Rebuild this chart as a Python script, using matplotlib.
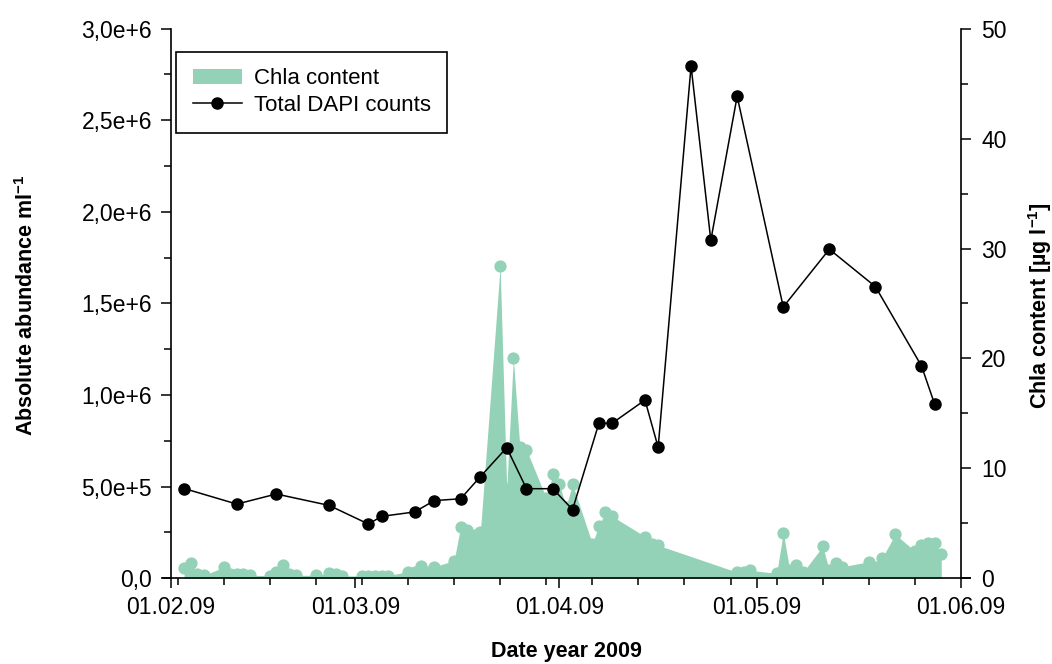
import matplotlib
matplotlib.use("Agg")
import matplotlib.pyplot as plt
import matplotlib.dates as mdates
import matplotlib.ticker as mticker
import pandas as pd

plt.rcParams['font.family'] = ['Liberation Sans', 'DejaVu Sans']
plt.rcParams['mathtext.fontset'] = 'custom'
plt.rcParams['mathtext.rm'] = 'Liberation Sans'
plt.rcParams['mathtext.bf'] = 'Liberation Sans:bold'
plt.rcParams['mathtext.it'] = 'Liberation Sans:italic'

# Chlorophyll a (µg/l), sampled on working days
chla_dates = [
    "2009-02-03", "2009-02-04", "2009-02-05", "2009-02-06",
    "2009-02-09", "2009-02-10", "2009-02-11", "2009-02-12", "2009-02-13",
    "2009-02-16", "2009-02-17", "2009-02-18", "2009-02-19", "2009-02-20",
    "2009-02-23", "2009-02-25", "2009-02-26", "2009-02-27",
    "2009-03-02", "2009-03-03", "2009-03-04", "2009-03-05", "2009-03-06",
    "2009-03-09", "2009-03-10", "2009-03-11", "2009-03-12", "2009-03-13",
    "2009-03-16", "2009-03-17", "2009-03-18", "2009-03-19", "2009-03-20",
    "2009-03-23", "2009-03-24", "2009-03-25", "2009-03-26", "2009-03-27",
    "2009-03-30", "2009-03-31", "2009-04-01", "2009-04-02", "2009-04-03",
    "2009-04-06", "2009-04-07", "2009-04-08", "2009-04-09",
    "2009-04-14", "2009-04-15", "2009-04-16",
    "2009-04-28", "2009-04-29", "2009-04-30",
    "2009-05-04", "2009-05-05", "2009-05-06", "2009-05-07", "2009-05-08",
    "2009-05-11", "2009-05-12", "2009-05-13", "2009-05-14",
    "2009-05-18", "2009-05-19", "2009-05-20", "2009-05-22",
    "2009-05-25", "2009-05-26", "2009-05-27", "2009-05-28", "2009-05-29",
]
chla_values = [
    0.91, 1.36, 0.36, 0.27,
    1.0, 0.36, 0.36, 0.36, 0.27,
    0.24, 0.6, 1.18, 0.36, 0.27,
    0.27, 0.45, 0.39, 0.21,
    0.22, 0.25, 0.25, 0.25, 0.25,
    0.6, 0.6, 1.12, 0.6, 1.06,
    1.6, 4.7, 4.4, 3.95, 4.25,
    28.4, 8.15, 20.0, 11.9, 11.7,
    7.3, 9.45, 8.55, 6.5, 8.55,
    3.15, 4.8, 6.0, 5.65,
    3.8, 3.1, 3.0,
    0.55, 0.55, 0.72,
    0.45, 4.15, 0.72, 1.2, 0.55,
    2.9, 0.72, 1.42, 1.06,
    1.5, 1.0, 1.82, 4.0,
    2.48, 3.05, 3.2, 3.2, 2.2,
]

# Total DAPI counts (cells per ml)
dapi_dates = [
    "2009-02-03", "2009-02-11", "2009-02-17", "2009-02-25",
    "2009-03-03", "2009-03-05", "2009-03-10", "2009-03-13", "2009-03-17",
    "2009-03-20", "2009-03-24", "2009-03-27", "2009-03-31", "2009-04-03",
    "2009-04-07", "2009-04-09", "2009-04-14", "2009-04-16", "2009-04-21",
    "2009-04-24", "2009-04-28", "2009-05-05", "2009-05-12", "2009-05-19",
    "2009-05-26", "2009-05-28",
]
dapi_counts = [
    4.90e5, 4.05e5, 4.60e5, 3.98e5,
    2.96e5, 3.38e5, 3.62e5, 4.24e5, 4.34e5,
    5.55e5, 7.13e5, 4.89e5, 4.89e5, 3.75e5,
    8.46e5, 8.46e5, 9.73e5, 7.15e5, 2.796e6,
    1.845e6, 2.631e6, 1.481e6, 1.796e6, 1.592e6,
    1.159e6, 9.50e5,
]

month_ticks = ["2009-02-01", "2009-03-01", "2009-04-01", "2009-05-01", "2009-06-01"]

GREEN = "#94D2B8"
TICK_FS = 16.5
LEG_FS = 16
LABEL_FS = 15.5

chla_x = pd.to_datetime(chla_dates)
dapi_x = pd.to_datetime(dapi_dates)

fig = plt.figure(figsize=(10.52, 6.64), dpi=100)
ax = fig.add_axes([0.1625, 0.1291, 0.7510, 0.8277])
ax_chla = ax.twinx()

# DAPI axis sits above the Chla fill
ax.set_zorder(ax_chla.get_zorder() + 1)
ax.patch.set_visible(False)

fill = ax_chla.fill_between(chla_x, chla_values, 0, color=GREEN, linewidth=0)
ax_chla.plot(chla_x, chla_values, "o", color=GREEN, ms=8, mew=0.8, mec=GREEN)
ax_chla.set_ylim(0, 50)
ax_chla.yaxis.set_major_locator(mticker.MultipleLocator(10))
ax_chla.yaxis.set_minor_locator(mticker.MultipleLocator(5))

line, = ax.plot(dapi_x, dapi_counts, "-o", color="black", lw=1.1, ms=8)
ax.set_ylim(0, 3.0e6)
ax.yaxis.set_major_locator(mticker.MultipleLocator(5e5))
ax.yaxis.set_minor_locator(mticker.MultipleLocator(2.5e5))


def sci_comma(v, pos):
    if v == 0:
        return "0,0"
    mant, exp = f"{v:.1e}".split("e")
    return f"{mant.replace('.', ',')}e+{int(exp)}"


ax.yaxis.set_major_formatter(mticker.FuncFormatter(sci_comma))

ax.set_xlim(pd.Timestamp(month_ticks[0]), pd.Timestamp(month_ticks[-1]))
ax.xaxis.set_major_locator(mticker.FixedLocator(mdates.date2num(pd.to_datetime(month_ticks))))
ax.xaxis.set_major_formatter(mdates.DateFormatter("%d.%m.%y"))
ax.xaxis.set_minor_locator(mdates.WeekdayLocator(byweekday=mdates.MO))

for a in (ax, ax_chla):
    for s in ("top", "bottom"):
        a.spines[s].set_visible(False)
    a.spines["left"].set_linewidth(1.2)
    a.spines["right"].set_linewidth(1.2)
ax.spines["right"].set_visible(False)
ax_chla.spines["left"].set_visible(False)

# x axis line running slightly past both vertical axes
ax.plot([-0.0101, 1.0114], [0, 0], transform=ax.transAxes, color="black",
        lw=1.2, clip_on=False, zorder=5)

ax.tick_params(axis="both", which="major", direction="out", length=7.5, width=1.1,
               labelsize=TICK_FS, colors="black")
ax.tick_params(axis="both", which="minor", direction="out", length=5, width=1.1)
ax.tick_params(axis="x", which="major", pad=5)
ax.tick_params(axis="y", which="major", pad=6)
ax_chla.tick_params(axis="y", which="major", direction="out", length=7.5, width=1.1,
                    labelsize=TICK_FS, pad=7)
ax_chla.tick_params(axis="y", which="minor", direction="out", length=5, width=1.1)

fig.text(566 / 1052, 1 - 652 / 664, "Date year 2009", ha="center", va="center",
         fontsize=LABEL_FS, fontweight="bold")
fig.text(27 / 1052, 1 - 305 / 664, r"Absolute abundance ml$\mathbf{^{-1}}$",
         ha="center", va="center", rotation=90, fontsize=LABEL_FS, fontweight="bold")
fig.text(1040 / 1052, 1 - 306 / 664, r"Chla content [µg l$\mathbf{^{-1}}$]",
         ha="center", va="center", rotation=90, fontsize=LABEL_FS, fontweight="bold")

leg = ax.legend([fill, line], ["Chla content", "Total DAPI counts"],
                loc="upper left", bbox_to_anchor=(176 / 1052, 1 - 51.7 / 664),
                bbox_transform=fig.transFigure, borderaxespad=0, frameon=True,
                fancybox=False, edgecolor="black", framealpha=1, fontsize=LEG_FS,
                handlelength=2.2, handletextpad=0.55, labelspacing=0.25,
                borderpad=0.75)
leg.get_frame().set_linewidth(1.2)

fig.savefig("out.png", dpi=100)
